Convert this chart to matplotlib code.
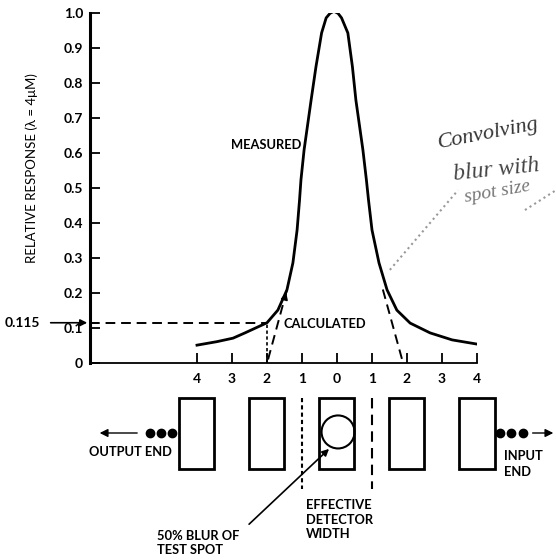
import numpy as np
import matplotlib
matplotlib.use('Agg')
import matplotlib.pyplot as plt
from matplotlib.patches import Ellipse

plt.rcParams['font.family'] = ['Lato', 'DejaVu Sans']

x_meas = [-4.0, -3.43, -2.97, -2.63, -2.0, -1.69, -1.43, -1.26, -1.14, -1.07,
          -1.03, -0.94, -0.74, -0.6, -0.44, -0.31, -0.2, -0.09, 0.03, 0.13,
          0.31, 0.44, 0.54, 0.74, 0.84, 0.9, 1.0, 1.2, 1.43, 1.71,
          2.09, 2.66, 3.29, 4.0]
y_meas = [0.051, 0.061, 0.071, 0.086, 0.115, 0.151, 0.209, 0.286, 0.38, 0.466,
          0.523, 0.609, 0.751, 0.847, 0.943, 0.986, 0.999, 1.005, 0.999, 0.986,
          0.943, 0.847, 0.751, 0.609, 0.523, 0.466, 0.38, 0.286, 0.209, 0.151,
          0.114, 0.086, 0.066, 0.054]

# calculated (dashed) lines
calc_left_x = [-1.97, -1.43]
calc_left_y = [0.01, 0.209]
calc_right_x = [1.31, 1.86]
calc_right_y = [0.21, 0.01]

level = 0.115
x_ticks = [-4, -3, -2, -1, 0, 1, 2, 3, 4]
x_ticklabels = ['4', '3', '2', '1', '0', '1', '2', '3', '4']
y_ticks = [0, 0.1, 0.2, 0.3, 0.4, 0.5, 0.6, 0.7, 0.8, 0.9, 1.0]
y_ticklabels = ['0', '0.1', '0.2', '0.3', '0.4', '0.5', '0.6', '0.7', '0.8', '0.9', '1.0']

# detector elements below the chart
det_centers = [-4, -2, 0, 2, 4]
det_width = 1.0
det_bottom = -0.303
det_height = 0.203

x_left = -7.057
fig = plt.figure(figsize=(5.56, 5.6), dpi=100)
ax = fig.add_axes([90 / 556, 197 / 560, 387 / 556, 350 / 560])
ax.set_xlim(x_left, 4.0)
ax.set_ylim(0, 1.0)

for s in ['top', 'right']:
    ax.spines[s].set_visible(False)
ax.spines['left'].set_linewidth(2.2)
ax.spines['bottom'].set_linewidth(1.3)

ax.set_xticks(x_ticks)
ax.set_xticklabels(x_ticklabels)
ax.set_yticks(y_ticks)
ax.set_yticklabels(y_ticklabels)
ax.tick_params(axis='both', direction='in', length=7, width=1.3)
ax.tick_params(axis='y', pad=5, labelsize=10)
ax.tick_params(axis='x', pad=7, labelsize=10)
for lab in ax.get_xticklabels() + ax.get_yticklabels():
    lab.set_fontweight('bold')

ax.set_ylabel(u'RELATIVE RESPONSE (\u03bb = 4\u03bcM)', fontsize=9.5)
ax.yaxis.set_label_coords(-0.135, 0.557)

# curves
ax.plot(x_meas, y_meas, color='black', lw=2)
ax.plot([x_left, -2.0], [level, level], color='black', lw=1.4, ls=(0, (5, 3)))
ax.plot([-2.0, -2.0], [0, level], color='black', lw=1.2, ls=(0, (2, 1.5)))
ax.plot(calc_left_x, calc_left_y, color='black', lw=1.4, ls=(0, (5, 3)))
ax.annotate('', xy=(calc_left_x[1], calc_left_y[1]),
            xytext=(calc_left_x[1] - 0.08, calc_left_y[1] - 0.03),
            arrowprops=dict(arrowstyle='-|>', color='black', lw=1.2, mutation_scale=10))
ax.plot(calc_right_x, calc_right_y, color='black', lw=1.4, ls=(0, (5, 3)))

txt = dict(fontsize=9.3, fontweight='bold')
ax.text(-1.03, 0.623, 'MEASURED', ha='right', va='center', **txt)
ax.text(-1.54, 0.111, 'CALCULATED', ha='left', va='center', **txt)

# 0.115 marker on the left
ax.text(-9.0, level, '0.115', fontsize=10, fontweight='bold', ha='center', va='center')
ax.annotate('', xy=(x_left, level), xytext=(-8.26, level), annotation_clip=False,
            arrowprops=dict(arrowstyle='-|>', color='black', lw=1.2, mutation_scale=10))

# handwritten note
hand = dict(fontstyle='italic', family='Liberation Serif', ha='center', va='center')
ax.text(4.31, 0.654, 'Convolving', color='#333333', fontsize=16, rotation=11, **hand)
ax.text(4.55, 0.55, 'blur with', color='#444444', fontsize=17, rotation=6, **hand)
ax.text(4.57, 0.49, 'spot size', color='#777777', fontsize=14, rotation=10, **hand)
ax.plot([1.51, 3.46], [0.266, 0.494], color='#999999', lw=1.5, ls=':', clip_on=False)
ax.plot([5.37, 6.26], [0.437, 0.494], color='#999999', lw=1.5, ls=':', clip_on=False)

# detector elements
ax.bar(det_centers, det_height, width=det_width, bottom=det_bottom, color='white',
       edgecolor='black', linewidth=2, clip_on=False)
ax.add_patch(Ellipse((0.03, -0.197), 0.943, 0.0943, fill=False, lw=1.5,
                     edgecolor='black', clip_on=False))
ax.plot([-1.0, -1.0], [-0.1, -0.36], color='black', lw=1.5, ls=(0, (2, 1.5)), clip_on=False)
ax.plot([1.0, 1.0], [-0.1, -0.36], color='black', lw=1.5, ls=(0, (5, 3)), clip_on=False)

# output / input ends
ax.plot([-5.34, -5.03, -4.71], [-0.2] * 3, 'o', color='black', ms=6, clip_on=False)
ax.annotate('', xy=(-6.86, -0.2), xytext=(-5.63, -0.2), annotation_clip=False,
            arrowprops=dict(arrowstyle='-|>', color='black', lw=1.0, mutation_scale=12))
ax.text(-5.91, -0.254, 'OUTPUT END', ha='center', va='center', **txt)
ax.plot([4.66, 4.97, 5.31], [-0.2] * 3, 'o', color='black', ms=6, clip_on=False)
ax.annotate('', xy=(6.26, -0.2), xytext=(5.51, -0.2), annotation_clip=False,
            arrowprops=dict(arrowstyle='-|>', color='black', lw=1.0, mutation_scale=12))
ax.text(4.77, -0.266, 'INPUT', ha='left', va='center', **txt)
ax.text(4.77, -0.311, 'END', ha='left', va='center', **txt)

ax.text(-0.886, -0.389, 'EFFECTIVE\nDETECTOR\nWIDTH', ha='left', va='top',
        linespacing=1.25, **txt)
ax.text(-5.14, -0.477, '50% BLUR OF\nTEST SPOT', ha='left', va='top',
        linespacing=1.25, **txt)
ax.annotate('', xy=(-0.17, -0.24), xytext=(-2.57, -0.466), annotation_clip=False,
            arrowprops=dict(arrowstyle='-|>', color='black', lw=1.2, mutation_scale=10))

fig.savefig('out.png', dpi=100)
